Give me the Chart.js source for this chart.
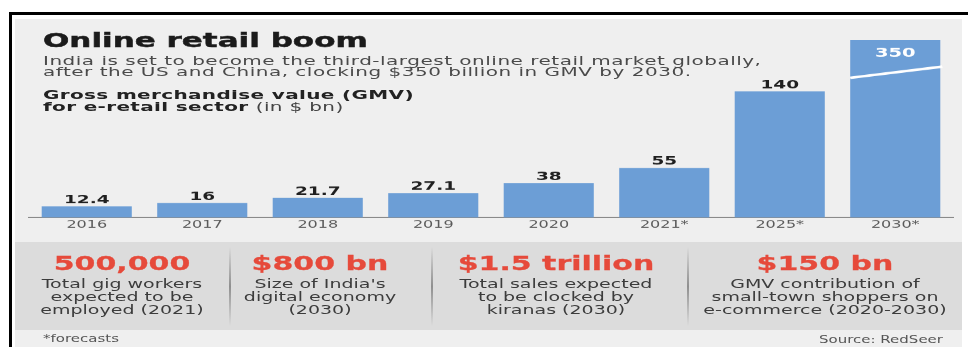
<!DOCTYPE html>
<html>
<head>
<meta charset="utf-8">
<script src="https://cdn.jsdelivr.net/npm/chart.js@4.4.1/dist/chart.umd.min.js"></script>
<style>
  body { margin: 0; background: #fff; font-family: "DejaVu Sans", sans-serif; }
  #frame { position: absolute; left: 9px; top: 12px; width: 956px; height: 332px;
           border-top: 3px solid #000; border-left: 3px solid #000; }
  #panel { position: absolute; left: 15px; top: 19px; width: 947px; height: 328px; background: #efefef; }
  #band  { position: absolute; left: 15px; top: 242px; width: 947px; height: 88px; background: #dcdcdc; }
  .sep   { position: absolute; top: 247px; width: 2px; height: 79px;
           background: linear-gradient(to bottom, rgba(150,150,150,0), #8f8f8f 50%, rgba(150,150,150,0)); }
  /* everything below is laid out 1.55x taller, then squeezed back */
  #art   { position: absolute; left: 0; top: 0; width: 968px; height: 538px;
           transform: scaleY(0.64516); transform-origin: 0 0; }
  .t     { position: absolute; white-space: nowrap; }
  .title { left: 43px; top: 44px; font-size: 31px; line-height: 36px; font-weight: bold; color: #1b1b1b;
           -webkit-text-stroke: 0.7px #1b1b1b; }
  .sub   { left: 43px; top: 85.6px; font-size: 20px; line-height: 17.8px; letter-spacing: 0.5px; color: #4a4a4a; }
  .gross { left: 43px; top: 138px; font-size: 20px; line-height: 18px; letter-spacing: 0.35px; font-weight: bold; color: #222; }
  .gross span { font-weight: normal; color: #444; }
  .stat  { position: absolute; width: 300px; text-align: center; }
  .fig   { font-size: 30px; line-height: 36px; font-weight: bold; color: #e64a3b; -webkit-text-stroke: 0.4px #e64a3b; }
  .note  { font-size: 19px; line-height: 20.9px; color: #3c3c3c; white-space: nowrap; }
  .foot  { font-size: 15px; line-height: 18px; color: #555; }
  #chartBox { position: absolute; left: 0; top: 40px; width: 968px; height: 327px; }
</style>
</head>
<body>
<div id="frame"></div>
<div id="panel"></div>
<div id="band"></div>
<div class="sep" style="left:229px"></div>
<div class="sep" style="left:431px"></div>
<div class="sep" style="left:687px"></div>

<div id="art">
  <div class="t title">Online retail boom</div>
  <div class="t sub">India is set to become the third-largest online retail market globally,<br>after the US and China, clocking $350 billion in GMV by 2030.</div>
  <div class="t gross">Gross merchandise value (GMV)<br>for e-retail sector <span>(in $ bn)</span></div>
  <div id="chartBox"><canvas id="gmvChart" width="968" height="327"></canvas></div>
  <div id="stats"></div>
  <div class="t foot" style="left:43px; top:516px">*forecasts</div>
  <div class="t foot" style="right:25px; top:518px">Source: RedSeer</div>
</div>

<script>
const years = ['2016', '2017', '2018', '2019', '2020', '2021*', '2025*', '2030*'];
const gmv = [12.4, 16, 21.7, 27.1, 38, 55, 140, 350];
// axis stops here, anything taller gets a break mark
const axisMax = 197;
const breakFrom = 155;
const breakTo = 167.5;

const statFigures = ['500,000', '$800 bn', '$1.5 trillion', '$150 bn'];
const statNotes = [
  ['Total gig workers', 'expected to be', 'employed (2021)'],
  ['Size of India\'s', 'digital economy', '(2030)'],
  ['Total sales expected', 'to be clocked by', 'kiranas (2030)'],
  ['GMV contribution of', 'small-town shoppers on', 'e-commerce (2020-2030)']
];
const statCenters = [122, 320, 556, 825];

const stats = document.getElementById('stats');
statFigures.forEach((fig, i) => {
  const cell = document.createElement('div');
  cell.className = 'stat';
  cell.style.left = (statCenters[i] - 150) + 'px';
  cell.style.top = '389.6px';
  cell.innerHTML = '<div class="fig"></div><div class="note"></div>';
  cell.querySelector('.fig').textContent = fig;
  cell.querySelector('.note').innerHTML = statNotes[i].join('<br>');
  cell.querySelector('.note').style.marginTop = '3px';
  stats.appendChild(cell);
});

const valueLabels = {
  id: 'valueLabels',
  afterDatasetsDraw(chart) {
    const { ctx, chartArea } = chart;
    const y = chart.scales.y;
    ctx.save();
    ctx.textAlign = 'center';
    chart.getDatasetMeta(0).data.forEach((bar, i) => {
      const v = gmv[i];
      if (v > axisMax) {
        const x0 = bar.x - bar.width / 2;
        const x1 = bar.x + bar.width / 2;
        ctx.strokeStyle = '#fff';
        ctx.lineWidth = 4;
        ctx.beginPath();
        ctx.moveTo(x0, y.getPixelForValue(breakFrom));
        ctx.lineTo(x1 + 2, y.getPixelForValue(breakTo));
        ctx.stroke();
        ctx.fillStyle = '#fff';
        ctx.font = 'bold 19.5px "DejaVu Sans"';
        ctx.fillText(String(v), bar.x, chartArea.top + 26);
      } else {
        ctx.fillStyle = '#1f1f1f';
        ctx.font = 'bold 18.5px "DejaVu Sans"';
        ctx.fillText(String(v), bar.x, bar.y - 5);
      }
    });
    ctx.restore();
  }
};

new Chart(document.getElementById('gmvChart'), {
  type: 'bar',
  data: {
    labels: years,
    datasets: [{
      data: gmv,
      backgroundColor: '#6c9ed6',
      borderWidth: 0,
      categoryPercentage: 1,
      barPercentage: 0.78,
      clip: 0
    }]
  },
  options: {
    responsive: false,
    animation: false,
    layout: { padding: { top: 22, left: 29, right: 15, bottom: 0 } },
    plugins: { legend: { display: false }, tooltip: { enabled: false } },
    scales: {
      x: {
        grid: { display: false, drawTicks: false },
        border: { display: true, color: '#8a8a8a', width: 2 },
        ticks: { color: '#5a5a5a', padding: 2, font: { family: 'DejaVu Sans', size: 16 } },
        afterFit(scale) { scale.height = 30; }
      },
      y: { display: false, min: 0, max: axisMax }
    }
  },
  plugins: [valueLabels]
});
</script>
</body>
</html>
